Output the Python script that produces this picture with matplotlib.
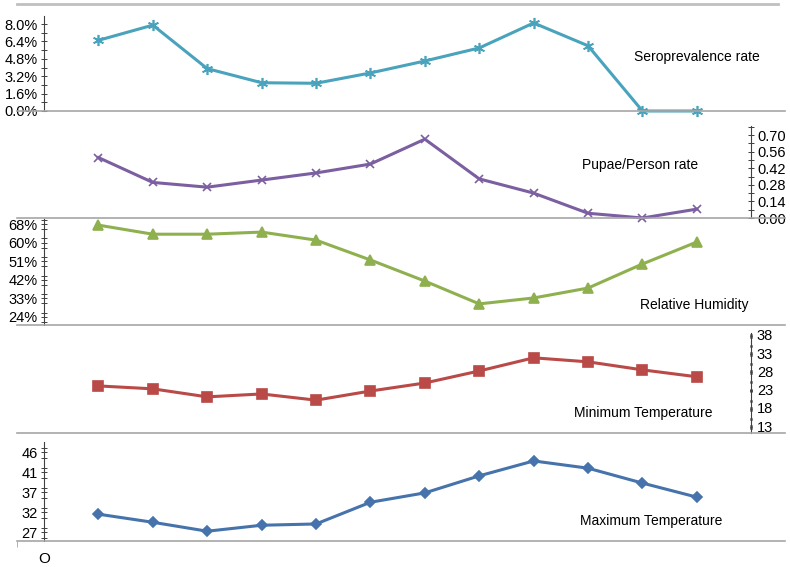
import numpy as np
import matplotlib
matplotlib.use("Agg")
from matplotlib import pyplot as plt
from matplotlib.ticker import FixedLocator, MultipleLocator, FuncFormatter
from matplotlib.lines import Line2D

plt.rcParams['font.family'] = ['Liberation Sans', 'DejaVu Sans']
plt.rcParams['font.size'] = 10

# valores (12 meses)
months = np.arange(1, 13)
seroprevalence = [6.5, 7.9, 3.9, 2.6, 2.55, 3.5, 4.6, 5.8, 8.1, 6.0, 0.0, 0.0]
pupae_rate = [0.51, 0.30, 0.26, 0.32, 0.38, 0.455, 0.665, 0.33, 0.21, 0.04, 0.0, 0.075]
humidity = [67.9, 63.6, 63.6, 64.6, 60.8, 51.4, 41.4, 30.6, 33.4, 38.1, 49.5, 59.9]
min_temp = [24.0, 23.2, 21.0, 21.8, 20.1, 22.6, 24.8, 28.1, 31.7, 30.6, 28.4, 26.5]
max_temp = [31.4, 29.5, 27.4, 28.8, 29.1, 34.2, 36.4, 40.4, 43.9, 42.2, 38.7, 35.4]

sero_ticks = [0.0, 1.6, 3.2, 4.8, 6.4, 8.0]
pupae_ticks = [0.00, 0.14, 0.28, 0.42, 0.56, 0.70]
hum_ticks = [24.4, 33.2, 42.0, 50.8, 59.6, 68.4]
min_ticks = [13, 18, 23, 28, 33, 38]
max_ticks = [27.2, 31.9, 36.6, 41.3, 46.0]

W, H = 790, 567
fig = plt.figure(figsize=(7.9, 5.67), dpi=100)

def px_axes(top, bottom):
    return fig.add_axes([17 / W, 1 - bottom / H, (785 - 17) / W, (bottom - top) / H])

grey = '#a6a6a6'
dark = '#404040'

panels = [
    # (top, bottom, data, color, marker, ms, side, ylim, ticks, minor, fmt, label, label pos)
    (16, 111, seroprevalence, '#4aa3bc', (6, 2, 0), 8, 'left', (0, 8.74), sero_ticks, 0.8,
     lambda v, p: f"{v:.1f}%", "Seroprevalence rate", (634, 57)),
    (126, 218, pupae_rate, '#7b5fa0', 'x', 6, 'right', (0, 0.776), pupae_ticks, 0.07,
     lambda v, p: f"{v:.2f}", "Pupae/Person rate", (582, 165)),
    (219, 325, humidity, '#8fb04f', '^', 7, 'left', (20.6, 70.8), hum_ticks, 4.4,
     lambda v, p: f"{v:.0f}%", "Relative Humidity", (640, 305)),
    (333, 433, min_temp, '#b94a47', 's', 6.5, 'right', (11.1, 38.5), min_ticks, 2.5,
     lambda v, p: f"{v:.0f}", "Minimum Temperature", (574, 413)),
    (442, 541, max_temp, '#4673ab', 'D', 5.5, 'left', (25.1, 48.35), max_ticks, 2.35,
     lambda v, p: f"{v:.0f}", "Maximum Temperature", (580, 521)),
]

axes = []
for top, bottom, vals, col, mk, ms, side, ylim, ticks, minor, fmt, label, lpos in panels:
    ax = px_axes(top, bottom)
    ax.patch.set_alpha(0)
    ax.plot(months, vals, color=col, lw=2.2, marker=mk, ms=ms, mew=1.2, clip_on=False)
    ax.set_xlim(-0.496, 13.62)
    ax.set_ylim(*ylim)
    for s in ['top', 'left', 'right']:
        ax.spines[s].set_visible(False)
    ax.spines['bottom'].set_color(grey)
    ax.spines['bottom'].set_linewidth(1.2)
    sp = ax.spines[side]
    sp.set_visible(True)
    sp.set_color(dark)
    sp.set_linewidth(0.8)
    sp.set_position(('data', 0 if side == 'left' else 13))
    ax.yaxis.set_ticks_position(side)
    ax.yaxis.set_major_locator(FixedLocator(ticks))
    ax.yaxis.set_minor_locator(MultipleLocator(minor))
    ax.yaxis.set_major_formatter(FuncFormatter(fmt))
    if label == "Minimum Temperature":
        ax.tick_params(axis='y', which='both', direction='inout', length=2, width=1.8,
                       color='black', labelsize=10.5, pad=3)
    else:
        ax.tick_params(axis='y', which='both', direction='inout', length=4, width=0.7,
                       color=dark, labelsize=10.5, pad=2.5)
    ax.set_xticks([])
    fig.text(lpos[0] / W, 1 - lpos[1] / H, label, ha='left', va='center', fontsize=10)
    axes.append(ax)

# eje x abajo con la etiqueta "O"
ax = axes[-1]
ax.set_xticks([0])
ax.set_xticklabels(['O'])
ax.tick_params(axis='x', length=0, pad=8, labelsize=11)
ax.set_xticks([-0.496], minor=True)
ax.tick_params(axis='x', which='minor', length=4, color=grey)

# linea gris superior
fig.add_artist(Line2D([17 / W, 778 / W], [1 - 4 / H, 1 - 4 / H], color='#c0c0c0', lw=2))

fig.savefig("out.png", dpi=100)
